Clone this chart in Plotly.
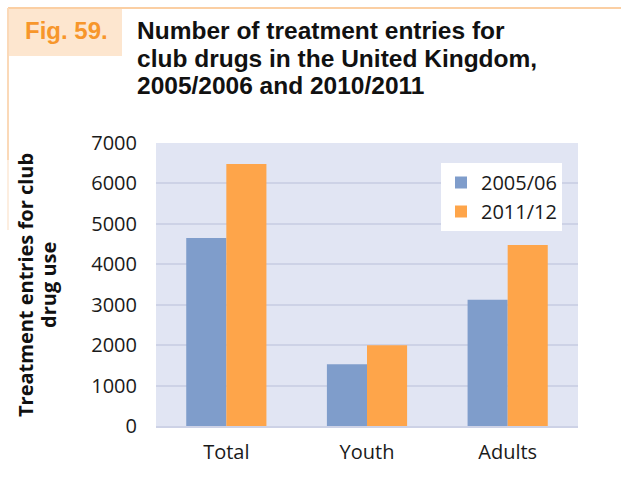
import plotly.graph_objects as go

categories = ["Total", "Youth", "Adults"]
series_names = ["2005/06", "2011/12"]
values_2005 = [4650, 1530, 3120]
values_2011 = [6480, 2000, 4480]
colors = ["#7f9dcb", "#fea54a"]
y_ticks = [0, 1000, 2000, 3000, 4000, 5000, 6000, 7000]

W, H = 621, 486
L, R, T, B = 156, 43, 143, 60
pw, ph = W - L - R, H - T - B

def px(x):
    return (x - L) / pw

def py(y):
    return (H - B - y) / ph

fig = go.Figure()
for name, vals, c in zip(series_names, [values_2005, values_2011], colors):
    fig.add_trace(go.Bar(x=categories, y=vals, name=name, marker=dict(color=c, line=dict(width=0))))

tick_font = dict(family="Open Sans, Noto Sans, sans-serif", size=20, color="#1a1a1a")

fig.update_layout(
    width=W, height=H,
    margin=dict(l=L, r=R, t=T, b=B, pad=0),
    paper_bgcolor="white",
    plot_bgcolor="#e1e5f3",
    barmode="group",
    bargap=0.43,
    bargroupgap=0,
    showlegend=True,
    legend=dict(x=px(441), y=py(163), xanchor="left", yanchor="top",
                bgcolor="white", font=tick_font, borderwidth=0,
                itemwidth=30, tracegroupgap=0),
    xaxis=dict(tickfont=tick_font, showgrid=False, ticks="", ticklabelstandoff=7,
               showline=True, linecolor="#cdd2e6", linewidth=2),
    yaxis=dict(range=[0, 7000], tickvals=y_ticks, tickfont=tick_font,
               gridcolor="#cdd2e6", gridwidth=2, zeroline=False,
               ticks="", ticklabelstandoff=18, showline=False),
)

shapes = []
# frame lines
shapes.append(dict(type="line", xref="paper", yref="paper", x0=px(8), x1=px(621), y0=py(8), y1=py(8),
                   line=dict(color="#fbcfa3", width=2)))
shapes.append(dict(type="line", xref="paper", yref="paper", x0=px(8), x1=px(8), y0=py(8), y1=py(160),
                   line=dict(color="#fbd9b8", width=2)))
shapes.append(dict(type="line", xref="paper", yref="paper", x0=px(8), x1=px(8), y0=py(160), y1=py(230),
                   line=dict(color="#fdeee0", width=2)))
# Fig box
shapes.append(dict(type="rect", xref="paper", yref="paper", x0=px(9), x1=px(122), y0=py(9), y1=py(56),
                   fillcolor="#fde6cf", line=dict(width=0), layer="below"))
fig.update_layout(shapes=shapes)

title_font = dict(family="Liberation Sans, Arial, sans-serif", size=24.5, color="#111111")
ann = []
ann.append(dict(text="<b>Fig. 59.</b>", x=px(23), y=py(30), xref="paper", yref="paper",
                xanchor="left", yanchor="middle", showarrow=False,
                font=dict(family="Liberation Sans, Arial, sans-serif", size=24, color="#f7962b")))
for i, line in enumerate(["Number of treatment entries for",
                          "club drugs in the United Kingdom,",
                          "2005/2006 and 2010/2011"]):
    ann.append(dict(text="<b>" + line + "</b>", x=px(135), y=py(30 + 28 * i), xref="paper", yref="paper",
                    xanchor="left", yanchor="middle", showarrow=False, font=title_font))
ylab_font = dict(family="Open Sans, Noto Sans, sans-serif", size=20, color="#111111")
for text, xc in [("Treatment entries for club", 25), ("drug use", 48)]:
    ann.append(dict(text="<b>" + text + "</b>", x=px(xc), y=py(285),
                    xref="paper", yref="paper", xanchor="center", yanchor="middle", showarrow=False,
                    textangle=-90, font=ylab_font))
fig.update_layout(annotations=ann)

fig.write_html("out.html")
